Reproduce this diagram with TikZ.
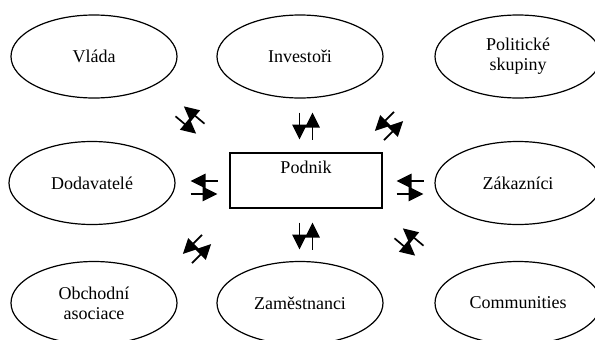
\documentclass[tikz,border=0pt]{standalone}
\usepackage{fontspec}
\setmainfont{Liberation Serif}
\usetikzlibrary{shapes.geometric,arrows.meta}
\begin{document}
\begin{tikzpicture}[x=1pt,y=-1pt,font=\fontsize{18}{20}\selectfont]
	\tikzstyle{party} = [ellipse,draw,line width=1.2pt,minimum width=166pt,minimum height=83pt,inner sep=0pt,align=center]
	\tikzstyle{firm} = [rectangle,draw,line width=1.6pt,minimum width=152pt,minimum height=55pt]
	\tikzstyle{flow} = [line width=1.7pt,-{Triangle[length=15pt,width=14.5pt]}]
	\tikzset{pics/twoway/.style={code={
		\draw[flow] (13.5pt,6.5pt) -- (-13.5pt,6.5pt);
		\draw[flow] (-13.5pt,-6.5pt) -- (13.5pt,-6.5pt);}}}
		
		\useasboundingbox (0,0) rectangle (595,340);
		\clip (0,0) rectangle (595,340);
		
		\node[party] (vlada) at (94,56.5) {Vláda};
		\node[party] (investori) at (300,56.5) {Investoři};
		\node[party] (politicke) at (518,56.5) {Politické\\skupiny};
		\node[party] (dodavatele) at (92,183) {Dodavatelé};
		\node[party] (zakaznici) at (518,183) {Zákazníci};
		\node[party] (obchodni) at (94,303) {Obchodní\\asociace};
		\node[party] (zamestnanci) at (300,303) {Zaměstnanci};
		\node[party] (communities) at (518,303) {Communities};
		
		\node[firm] (podnik) at (306,180.5) {};
		\node[anchor=north] (podniktext) at ([yshift=-5pt]podnik.north) {Podnik};
		
		\coordinate (p1) at (190,120);
		\coordinate (p2) at (306,126);
		\coordinate (p3) at (389,126);
		\coordinate (p4) at (204,187.5);
		\coordinate (p5) at (410,187.5);
		\coordinate (p6) at (197,249);
		\coordinate (p7) at (306,236);
		\coordinate (p8) at (409,242);
		
		\pic[rotate=-40] at (p1) {twoway};
		\pic[rotate=90] at (p2) {twoway};
		\pic[rotate=45] at (p3) {twoway};
		\pic at (p4) {twoway};
		\pic at (p5) {twoway};
		\pic[rotate=45] at (p6) {twoway};
		\pic[rotate=90] at (p7) {twoway};
		\pic[rotate=-40] at (p8) {twoway};
\end{tikzpicture}
\end{document}
